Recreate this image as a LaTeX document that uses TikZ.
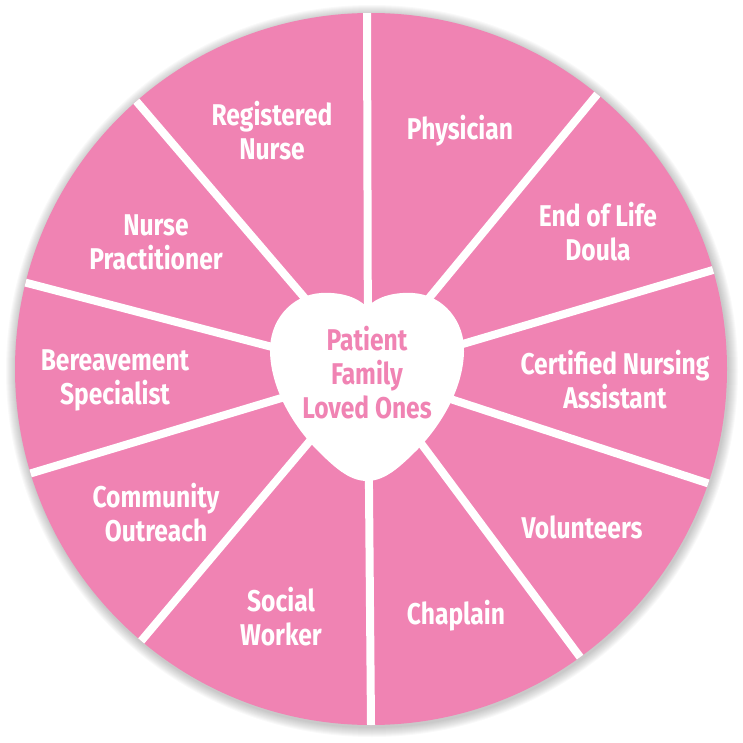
\documentclass[tikz,border=0pt]{standalone}
\usepackage{fontspec}
\setmainfont{Fira Sans}[FakeStretch=0.82]
\usetikzlibrary{calc}
\definecolor{pk}{HTML}{F083B3}
\begin{document}
\begin{tikzpicture}[x=1pt,y=-1pt,
  lab/.style={text=white, font=\fontsize{30}{34}\selectfont\bfseries, align=center, inner sep=0pt},
  mid/.style={text=pk, font=\fontsize{30}{34}\selectfont\bfseries, align=center, inner sep=0pt},
  divider/.style={white, line width=8pt}]
\useasboundingbox (0,0) rectangle (743,743);
% shadow
\foreach \i in {1,...,10} \fill[black, opacity=0.022] (372,371) circle ({356+\i});
\fill[pk] (371,369) circle (356);
\coordinate (c) at (368,372);
\coordinate (e0) at (367,13);
\coordinate (e1) at (595,97);
\coordinate (e2) at (713,270);
\coordinate (e3) at (707,483);
\coordinate (e4) at (580,657);
\coordinate (e5) at (371,725);
\coordinate (e6) at (142,640);
\coordinate (e7) at (32,473);
\coordinate (e8) at (27,283);
\coordinate (e9) at (137,102);
\begin{scope}
\clip (371,369) circle (356);
\foreach \k in {0,...,9} \draw[divider] (c) -- ($(c)!1.15!(e\k)$);
\end{scope}
% heart
\fill[white] (367,307)
  .. controls (378,296) and (395,292) .. (413,293)
  .. controls (444,295) and (465,322) .. (464,352)
  .. controls (463,390) and (440,426) .. (418,449)
  .. controls (400,467) and (385,481) .. (367,481)
  .. controls (349,481) and (334,467) .. (316,449)
  .. controls (294,426) and (271,390) .. (270,352)
  .. controls (269,322) and (290,295) .. (321,293)
  .. controls (339,292) and (356,296) .. (367,307) -- cycle;
\node[mid] (center) at (367,373) {Patient\\Family\\Loved Ones};
\node[lab] (rn) at (272,131) {Registered\\Nurse};
\node[lab] (ph) at (460,131) {Physician};
\node[lab] (eol) at (598,232) {End of Life\\Doula};
\node[lab] (cna) at (615,380) {Certified Nursing\\Assistant};
\node[lab] (vol) at (582,527) {Volunteers};
\node[lab] (chap) at (456,616) {Chaplain};
\node[lab] (sw) at (281,617) {Social\\Worker};
\node[lab] (co) at (156,513) {Community\\Outreach};
\node[lab] (bs) at (115,380) {Bereavement\\Specialist};
\node[lab] (np) at (156,242) {Nurse\\Practitioner};
\end{tikzpicture}
\end{document}
